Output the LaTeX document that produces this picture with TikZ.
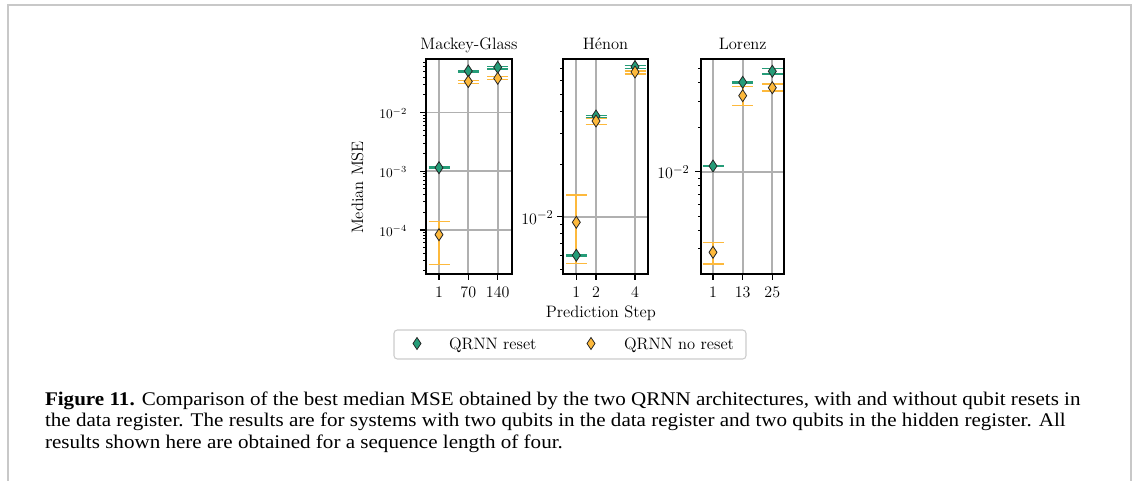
\documentclass[tikz,border=0pt]{standalone}
\usepackage{fontspec}
\newfontfamily\capfont[FakeStretch=1.09]{Liberation Serif}
\definecolor{qgreen}{HTML}{259C78}
\definecolor{qorange}{HTML}{FDB93C}
\definecolor{gridgray}{HTML}{B0B0B0}
\definecolor{framegray}{HTML}{C8C8C8}
\definecolor{legendgray}{HTML}{CCCCCC}

\tikzset{
  every node/.style={inner sep=0pt, outer sep=0pt},
  plotfont/.style={font=\fontsize{12.4}{14}\selectfont},
  ticklabel/.style={font=\fontsize{12}{14}\selectfont},
  bigytick/.style={font=\fontsize{13.1}{15}\selectfont},
  smallytick/.style={font=\fontsize{9.8}{12}\selectfont},
  capfontstyle/.style={font=\capfont\fontsize{14.5}{16}\selectfont},
  spine/.style={draw=black, line width=1.4pt},
  gridline/.style={draw=gridgray, line width=1.35pt},
  majortick/.style={draw=black, line width=1pt},
  minortick/.style={draw=black, line width=0.75pt},
  errline/.style={line width=1.6pt},
  capline/.style={line width=1.1pt},
  marker/.style={draw=black!85, line width=0.6pt},
  legendbox/.style={draw=legendgray, line width=0.8pt, fill=white, rounded corners=2.5pt},
  framerule/.style={draw=framegray, line width=1.1pt},
}

% error bar: x, lower end, upper end, colour
\newcommand\ebar[4]{%
  \draw[errline,#4] (#1,#2) -- (#1,#3);
  \draw[capline,#4] (#1-10.5,#2) -- (#1+10.5,#2) (#1-10.5,#3) -- (#1+10.5,#3);}
% thin diamond marker: x, y, fill colour
\newcommand\dmd[3]{%
  \filldraw[marker,fill=#3] (#1,#2) ++(0,-6) -- ++(4,6) -- ++(-4,6) -- ++(-4,-6) -- cycle;}
% minor log ticks: spine x, y of 1e-2, px per decade, top y, bottom y
\newcommand\logticks[5]{%
  \foreach \n in {-6,...,-1}{%
    \foreach \k in {2,...,9}{%
      \pgfmathsetmacro\yy{#2-(\n+2+ln(\k)/ln(10))*#3}%
      \pgfmathtruncatemacro\inside{(\yy>#4+1)&&(\yy<#5-1)}%
      \ifnum\inside=1 \draw[minortick] (#1,\yy) -- (#1-3.5,\yy);\fi
    }}}

\begin{document}
\begin{tikzpicture}[x=0.75pt,y=-0.75pt]
\useasboundingbox (0,0) rectangle (1132,481);

% page frame
\draw[framerule] (7.8,481) -- (7.8,5) -- (1130.8,5) -- (1130.8,481);

%% ---------- Mackey-Glass ----------
\foreach \gx in {439,468.3,497.7} \draw[gridline] (\gx,59) -- (\gx,274.3);
\foreach \gy in {112.5,171.2,229.9} \draw[gridline] (426,\gy) -- (511.7,\gy);
\ebar{439}{167}{168.3}{qgreen}
\ebar{468.3}{70.5}{72}{qgreen}
\ebar{497.7}{66.5}{69}{qgreen}
\ebar{439}{221.7}{264.3}{qorange}
\ebar{468.3}{80.7}{83.3}{qorange}
\ebar{497.7}{76.5}{79.5}{qorange}
\dmd{439}{167.7}{qgreen}
\dmd{468.3}{71}{qgreen}
\dmd{497.7}{67.3}{qgreen}
\dmd{439}{234.7}{qorange}
\dmd{468.3}{81.5}{qorange}
\dmd{497.7}{78.3}{qorange}
\logticks{426}{112.5}{58.7}{59}{274.3}
\foreach \gy in {112.5,171.2,229.9} \draw[majortick] (426,\gy) -- (420,\gy);
\foreach \gx in {439,468.3,497.7} \draw[majortick] (\gx,274.3) -- (\gx,280.3);
\draw[spine] (426,59) rectangle (511.7,274.3);
\node[smallytick, anchor=base east] (mgy2) at (407,119) {$10^{-2}$};
\node[smallytick, anchor=base east] (mgy3) at (407,177.7) {$10^{-3}$};
\node[smallytick, anchor=base east] (mgy4) at (407,236.4) {$10^{-4}$};
\node[ticklabel, anchor=base] (mgx1) at (439,297.5) {1};
\node[ticklabel, anchor=base] (mgx2) at (468.3,297.5) {70};
\node[ticklabel, anchor=base] (mgx3) at (497.7,297.5) {140};
\node[plotfont, anchor=base] (mgtitle) at (468.9,49.5) {Mackey-Glass};

%% ---------- Henon ----------
\foreach \gx in {576.3,596,635} \draw[gridline] (\gx,59) -- (\gx,274.3);
\draw[gridline] (563.3,216.7) -- (647.7,216.7);
\ebar{576.3}{255}{256}{qgreen}
\ebar{596}{115.5}{117.5}{qgreen}
\ebar{635}{65.5}{68.5}{qgreen}
\ebar{576.3}{195}{263.5}{qorange}
\ebar{596}{118.7}{124.3}{qorange}
\ebar{635}{70.8}{73.8}{qorange}
\dmd{576.3}{255.3}{qgreen}
\dmd{596}{116}{qgreen}
\dmd{635}{66.7}{qgreen}
\dmd{576.3}{222.3}{qorange}
\dmd{596}{121}{qorange}
\dmd{635}{72}{qorange}
\logticks{563.3}{216.7}{175}{59}{274.3}
\draw[majortick] (563.3,216.7) -- (557.3,216.7);
\foreach \gx in {576.3,596,635} \draw[majortick] (\gx,274.3) -- (\gx,280.3);
\draw[spine] (563.3,59) rectangle (647.7,274.3);
\node[bigytick, anchor=base east] (hey2) at (553.5,224) {$10^{-2}$};
\node[ticklabel, anchor=base] (hex1) at (576.3,297.5) {1};
\node[ticklabel, anchor=base] (hex2) at (596,297.5) {2};
\node[ticklabel, anchor=base] (hex3) at (635,297.5) {4};
\node[plotfont, anchor=base] (hetitle) at (605.5,49.5) {Hénon};

%% ---------- Lorenz ----------
\foreach \gx in {713,742.7,772.3} \draw[gridline] (\gx,59) -- (\gx,274.3);
\draw[gridline] (701,171.7) -- (784.3,171.7);
\ebar{713}{165.5}{166.5}{qgreen}
\ebar{742.7}{82}{83.3}{qgreen}
\ebar{772.3}{68.7}{74}{qgreen}
\ebar{713}{242.3}{264}{qorange}
\ebar{742.7}{86.7}{105.7}{qorange}
\ebar{772.3}{84}{91}{qorange}
\dmd{713}{166}{qgreen}
\dmd{742.7}{82.3}{qgreen}
\dmd{772.3}{71.3}{qgreen}
\dmd{713}{252.3}{qorange}
\dmd{742.7}{95.7}{qorange}
\dmd{772.3}{87.7}{qorange}
\logticks{701}{171.7}{147.5}{59}{274.3}
\draw[majortick] (701,171.7) -- (695,171.7);
\foreach \gx in {713,742.7,772.3} \draw[majortick] (\gx,274.3) -- (\gx,280.3);
\draw[spine] (701,59) rectangle (784.3,274.3);
\node[bigytick, anchor=base east] (loy2) at (689.5,179) {$10^{-2}$};
\node[ticklabel, anchor=base] (lox1) at (713,297.5) {1};
\node[ticklabel, anchor=base] (lox2) at (742.7,297.5) {13};
\node[ticklabel, anchor=base] (lox3) at (772.3,297.5) {25};
\node[plotfont, anchor=base] (lotitle) at (742.7,49.5) {Lorenz};

%% ---------- axis labels ----------
\node[plotfont, anchor=base, rotate=90] (ylabel) at (363,187.5) {Median MSE};
\node[plotfont, anchor=base] (xlabel) at (600.8,317) {Prediction Step};

%% ---------- legend ----------
\draw[legendbox] (394,330) rectangle (746,359);
\dmd{417}{343.5}{qgreen}
\node[plotfont, anchor=base west] (legreset) at (449,349.3) {QRNN reset};
\dmd{591}{343.5}{qorange}
\node[plotfont, anchor=base west] (legnoreset) at (624,349.3) {QRNN no reset};

%% ---------- caption ----------
\node[capfontstyle, anchor=base west] (cap1) at (45,405)
  {\textbf{Figure 11.} Comparison of the best median MSE obtained by the two QRNN architectures, with and without qubit resets in};
\node[capfontstyle, anchor=base west] (cap2) at (45,426.5)
  {the data register. The results are for systems with two qubits in the data register and two qubits in the hidden register. All};
\node[capfontstyle, anchor=base west] (cap3) at (45,448)
  {results shown here are obtained for a sequence length of four.};
\end{tikzpicture}
\end{document}
